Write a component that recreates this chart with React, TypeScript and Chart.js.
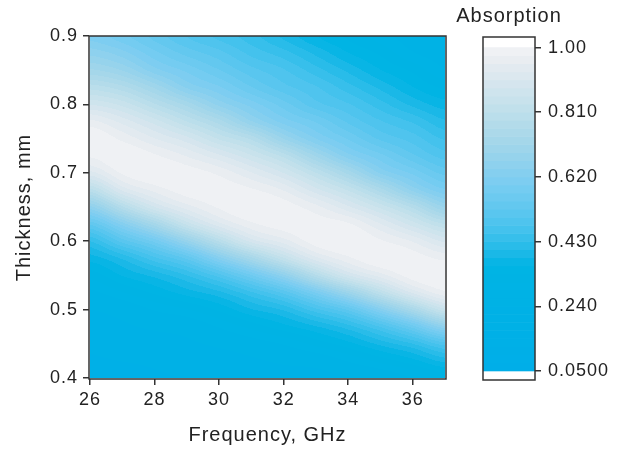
import React, { useEffect, useRef } from "react";
import { Chart, registerables } from "chart.js";

Chart.register(...registerables);

// ---- data ----
const FREQUENCY_GHZ = [26, 27, 28, 29, 30, 31, 32, 33, 34, 35, 36, 37];
const THICKNESS_MM = [
  0.4, 0.425, 0.45, 0.475, 0.5, 0.525, 0.55, 0.575, 0.6, 0.625, 0.65,
  0.675, 0.7, 0.725, 0.75, 0.775, 0.8, 0.825, 0.85, 0.875, 0.9,
];
// absorption along thickness (0.40 -> 0.90 mm) for each frequency
const ABS_26GHZ = [0.13, 0.16, 0.18, 0.21, 0.24, 0.28, 0.32, 0.37, 0.43, 0.53, 0.66, 0.8, 0.92, 0.98, 1.0, 0.96, 0.88, 0.8, 0.72, 0.66, 0.61];
const ABS_27GHZ = [0.14, 0.17, 0.2, 0.23, 0.26, 0.31, 0.36, 0.41, 0.51, 0.63, 0.78, 0.91, 0.98, 1.0, 0.97, 0.92, 0.85, 0.77, 0.69, 0.63, 0.58];
const ABS_28GHZ = [0.16, 0.18, 0.21, 0.25, 0.29, 0.34, 0.39, 0.47, 0.58, 0.73, 0.88, 0.96, 1.0, 0.98, 0.93, 0.87, 0.79, 0.71, 0.63, 0.58, 0.54];
const ABS_29GHZ = [0.17, 0.2, 0.23, 0.26, 0.31, 0.37, 0.43, 0.53, 0.68, 0.84, 0.94, 0.99, 0.99, 0.95, 0.89, 0.81, 0.73, 0.64, 0.59, 0.54, 0.5];
const ABS_30GHZ = [0.18, 0.21, 0.25, 0.29, 0.34, 0.4, 0.49, 0.63, 0.79, 0.92, 0.98, 0.99, 0.97, 0.91, 0.83, 0.75, 0.66, 0.6, 0.55, 0.51, 0.47];
const ABS_31GHZ = [0.19, 0.23, 0.27, 0.32, 0.38, 0.45, 0.57, 0.73, 0.89, 0.97, 1.0, 0.98, 0.93, 0.86, 0.78, 0.67, 0.61, 0.55, 0.51, 0.47, 0.44];
const ABS_32GHZ = [0.21, 0.25, 0.29, 0.35, 0.41, 0.51, 0.66, 0.83, 0.94, 0.99, 0.99, 0.95, 0.88, 0.8, 0.69, 0.61, 0.56, 0.51, 0.48, 0.44, 0.4];
const ABS_33GHZ = [0.22, 0.26, 0.32, 0.38, 0.47, 0.6, 0.78, 0.92, 0.99, 0.99, 0.96, 0.89, 0.81, 0.71, 0.62, 0.57, 0.51, 0.48, 0.44, 0.4, 0.36];
const ABS_34GHZ = [0.24, 0.29, 0.35, 0.42, 0.53, 0.7, 0.88, 0.97, 1.0, 0.98, 0.91, 0.83, 0.73, 0.63, 0.57, 0.52, 0.48, 0.44, 0.4, 0.36, 0.33];
const ABS_35GHZ = [0.26, 0.32, 0.39, 0.48, 0.63, 0.81, 0.94, 1.0, 0.98, 0.93, 0.85, 0.75, 0.64, 0.58, 0.52, 0.48, 0.44, 0.4, 0.36, 0.33, 0.3];
const ABS_36GHZ = [0.29, 0.35, 0.43, 0.56, 0.74, 0.91, 0.99, 0.99, 0.95, 0.87, 0.78, 0.66, 0.59, 0.53, 0.49, 0.45, 0.4, 0.36, 0.33, 0.29, 0.27];
const ABS_37GHZ = [0.32, 0.39, 0.49, 0.66, 0.85, 0.97, 1.0, 0.97, 0.9, 0.81, 0.69, 0.6, 0.54, 0.49, 0.45, 0.41, 0.37, 0.33, 0.29, 0.27, 0.24];
const ABSORPTION_COLUMNS = [
  ABS_26GHZ, ABS_27GHZ, ABS_28GHZ, ABS_29GHZ, ABS_30GHZ, ABS_31GHZ,
  ABS_32GHZ, ABS_33GHZ, ABS_34GHZ, ABS_35GHZ, ABS_36GHZ, ABS_37GHZ,
];

const X_TICKS = [26, 28, 30, 32, 34, 36];
const Y_TICKS = [0.4, 0.5, 0.6, 0.7, 0.8, 0.9];
const CBAR_TICKS = [0.05, 0.24, 0.43, 0.62, 0.81, 1.0];
const CBAR_LABELS = ["0.0500", "0.240", "0.430", "0.620", "0.810", "1.00"];
const LEVEL_MIN = 0.05;
const LEVEL_MAX = 1.0;
const LEVEL_COUNT = 40;

// colour map
const CMAP_VALUES = [0.05, 0.36, 0.4, 0.45, 0.5, 0.55, 0.6, 0.65, 0.7, 0.75, 0.8, 0.85, 0.9, 0.95, 1.0];
const CMAP_COLORS = [
  [0, 174, 232], [0, 180, 228], [30, 185, 232], [60, 192, 236], [84, 197, 238],
  [104, 201, 240], [122, 205, 242], [140, 208, 238], [157, 213, 235], [172, 217, 234],
  [187, 222, 235], [201, 226, 236], [215, 230, 238], [229, 235, 240], [242, 243, 245],
];

const FONT = "'Liberation Sans', Arial, Helvetica, sans-serif";
const TEXT = "#222222";
const FRAME = "#333333";

function cmap(v: number): number[] {
  if (v <= CMAP_VALUES[0]) return CMAP_COLORS[0];
  for (let i = 0; i < CMAP_VALUES.length - 1; i++) {
    if (v <= CMAP_VALUES[i + 1]) {
      const u = (v - CMAP_VALUES[i]) / (CMAP_VALUES[i + 1] - CMAP_VALUES[i]);
      const a = CMAP_COLORS[i], b = CMAP_COLORS[i + 1];
      return [0, 1, 2].map((k) => Math.round(a[k] + (b[k] - a[k]) * u));
    }
  }
  return CMAP_COLORS[CMAP_COLORS.length - 1];
}

const STEP = (LEVEL_MAX - LEVEL_MIN) / LEVEL_COUNT;
function levelColor(v: number): number[] {
  let k = Math.floor((v - LEVEL_MIN) / STEP);
  k = Math.max(0, Math.min(LEVEL_COUNT - 1, k));
  return cmap(LEVEL_MIN + (k + 0.5) * STEP);
}

function cubic(p0: number, p1: number, p2: number, p3: number, u: number) {
  return (
    p1 +
    0.5 * u * (p2 - p0 + u * (2 * p0 - 5 * p1 + 4 * p2 - p3 + u * (3 * (p1 - p2) + p3 - p0)))
  );
}

function locate(arr: number[], v: number) {
  let i = 0;
  while (i < arr.length - 2 && v > arr[i + 1]) i++;
  return { i, u: (v - arr[i]) / (arr[i + 1] - arr[i]) };
}

function sampleAbsorption(f: number, t: number): number | null {
  const F = FREQUENCY_GHZ, T = THICKNESS_MM;
  if (f < F[0] || f > F[F.length - 1] || t < T[0] || t > T[T.length - 1]) return null;
  const { i, u } = locate(F, f);
  const { i: j, u: w } = locate(T, t);
  const cl = (k: number, n: number) => Math.max(0, Math.min(n - 1, k));
  const colVal = (ci: number) => {
    const c = ABSORPTION_COLUMNS[cl(ci, F.length)];
    const n = T.length;
    return cubic(c[cl(j - 1, n)], c[cl(j, n)], c[cl(j + 1, n)], c[cl(j + 2, n)], w);
  };
  const v = cubic(colVal(i - 1), colVal(i), colVal(i + 1), colVal(i + 2), u);
  return Math.max(0, Math.min(1, v));
}

const spacingPlugin = {
  id: "spacing",
  beforeDraw(chart: any) {
    (chart.ctx as any).letterSpacing = "1px";
  },
};

const heatmapPlugin = {
  id: "heatmap",
  beforeDatasetsDraw(chart: any) {
    const { ctx, chartArea: a, scales } = chart;
    const x = scales.x, y = scales.y;
    const left = Math.round(a.left), top = Math.round(a.top);
    const w = Math.round(a.right) - left, h = Math.round(a.bottom) - top;
    const off = document.createElement("canvas");
    off.width = w;
    off.height = h;
    const octx = off.getContext("2d")!;
    const img = octx.createImageData(w, h);
    for (let r = 0; r < h; r++) {
      const t = y.getValueForPixel(top + r + 0.5);
      for (let c = 0; c < w; c++) {
        const f = x.getValueForPixel(left + c + 0.5);
        const v = sampleAbsorption(f, t);
        const col = v === null ? [255, 255, 255] : levelColor(v);
        const p = (r * w + c) * 4;
        img.data[p] = col[0];
        img.data[p + 1] = col[1];
        img.data[p + 2] = col[2];
        img.data[p + 3] = 255;
      }
    }
    octx.putImageData(img, 0, 0);
    ctx.drawImage(off, left, top);
  },
  afterDraw(chart: any) {
    const { ctx, chartArea: a } = chart;
    ctx.save();
    ctx.strokeStyle = FRAME;
    ctx.lineWidth = 1.5;
    ctx.strokeRect(a.left, a.top, a.right - a.left, a.bottom - a.top);
    ctx.restore();
  },
};

const colorbarPlugin = {
  id: "colorbar",
  beforeDatasetsDraw(chart: any) {
    const { ctx, chartArea: a, scales } = chart;
    const y = scales.y;
    ctx.save();
    ctx.fillStyle = "#ffffff";
    ctx.fillRect(a.left, a.top, a.right - a.left, a.bottom - a.top);
    for (let k = 0; k < LEVEL_COUNT; k++) {
      const lo = LEVEL_MIN + k * STEP;
      const hi = lo + STEP;
      const col = cmap(lo + STEP / 2);
      const yTop = y.getPixelForValue(hi);
      const yBot = y.getPixelForValue(lo);
      ctx.fillStyle = `rgb(${col[0]},${col[1]},${col[2]})`;
      ctx.fillRect(a.left, yTop - 0.3, a.right - a.left, yBot - yTop + 0.6);
    }
    ctx.restore();
  },
  afterDraw(chart: any) {
    const { ctx, chartArea: a } = chart;
    ctx.save();
    ctx.strokeStyle = FRAME;
    ctx.lineWidth = 1.5;
    ctx.strokeRect(a.left, a.top, a.right - a.left, a.bottom - a.top);
    ctx.fillStyle = TEXT;
    ctx.font = `20px ${FONT}`;
    (ctx as any).letterSpacing = "1px";
    ctx.textAlign = "center";
    ctx.textBaseline = "alphabetic";
    ctx.fillText("Absorption", (a.left + a.right) / 2, 22);
    ctx.restore();
  },
};

export default function App() {
  const mainRef = useRef<HTMLCanvasElement | null>(null);
  const barRef = useRef<HTMLCanvasElement | null>(null);

  useEffect(() => {
    const tickFont = { family: FONT, size: 18 };
    const titleFont = { family: FONT, size: 20 };
    const tickGrid = {
      display: true,
      drawOnChartArea: false,
      drawTicks: true,
      tickLength: 6,
      color: FRAME,
      lineWidth: 1.5,
    };

    const main = new Chart(mainRef.current!, {
      type: "scatter",
      data: { datasets: [{ data: [], pointRadius: 0 }] },
      options: {
        responsive: false,
        animation: false,
        devicePixelRatio: 1,
        layout: { padding: { left: 0, top: 36, right: 177, bottom: 0 } },
        plugins: { legend: { display: false }, tooltip: { enabled: false } },
        scales: {
          x: {
            type: "linear",
            min: 25.97,
            max: 37.03,
            afterBuildTicks: (s: any) => {
              s.ticks = X_TICKS.map((v) => ({ value: v }));
            },
            afterFit: (s: any) => {
              s.height = 72;
            },
            grid: tickGrid,
            border: { display: false },
            ticks: {
              color: TEXT,
              font: tickFont,
              padding: 4,
              maxRotation: 0,
              autoSkip: false,
              callback: (v: any) => String(v),
            },
            title: {
              display: true,
              text: "Frequency, GHz",
              color: TEXT,
              font: titleFont,
              padding: { top: 0, bottom: 4 },
            },
          },
          y: {
            type: "linear",
            min: 0.3985,
            max: 0.9,
            afterBuildTicks: (s: any) => {
              s.ticks = Y_TICKS.map((v) => ({ value: v }));
            },
            afterFit: (s: any) => {
              s.width = 89;
            },
            grid: tickGrid,
            border: { display: false },
            ticks: {
              color: TEXT,
              font: tickFont,
              padding: 5,
              autoSkip: false,
              callback: (v: any) => Number(v).toFixed(1),
            },
            title: {
              display: true,
              text: "Thickness, mm",
              color: TEXT,
              font: titleFont,
              padding: { top: 12, bottom: 0 },
            },
          },
        },
      },
      plugins: [spacingPlugin, heatmapPlugin],
    } as any);

    const bar = new Chart(barRef.current!, {
      type: "scatter",
      data: { datasets: [{ data: [], pointRadius: 0 }] },
      options: {
        responsive: false,
        animation: false,
        devicePixelRatio: 1,
        layout: { padding: { left: 483, top: 37, right: 0, bottom: 71 } },
        plugins: { legend: { display: false }, tooltip: { enabled: false } },
        scales: {
          x: { type: "linear", display: false, min: 0, max: 1 },
          y: {
            type: "linear",
            position: "right",
            min: 0.0236,
            max: 1.031,
            afterBuildTicks: (s: any) => {
              s.ticks = CBAR_TICKS.map((v) => ({ value: v }));
            },
            afterFit: (s: any) => {
              s.width = 88;
            },
            grid: tickGrid,
            border: { display: false },
            ticks: {
              color: TEXT,
              font: tickFont,
              padding: 7,
              autoSkip: false,
              callback: (_v: any, i: number) => CBAR_LABELS[i],
            },
          },
        },
      },
      plugins: [spacingPlugin, colorbarPlugin],
    } as any);

    return () => {
      main.destroy();
      bar.destroy();
    };
  }, []);

  const canvasStyle: React.CSSProperties = {
    position: "absolute",
    left: 0,
    top: 0,
    width: 623,
    height: 451,
  };

  return (
    <div
      style={{
        position: "fixed",
        left: 0,
        top: 0,
        width: 623,
        height: 451,
        background: "#ffffff",
        overflow: "hidden",
      }}
    >
      <canvas ref={mainRef} width={623} height={451} style={canvasStyle} />
      <canvas ref={barRef} width={623} height={451} style={canvasStyle} />
    </div>
  );
}
